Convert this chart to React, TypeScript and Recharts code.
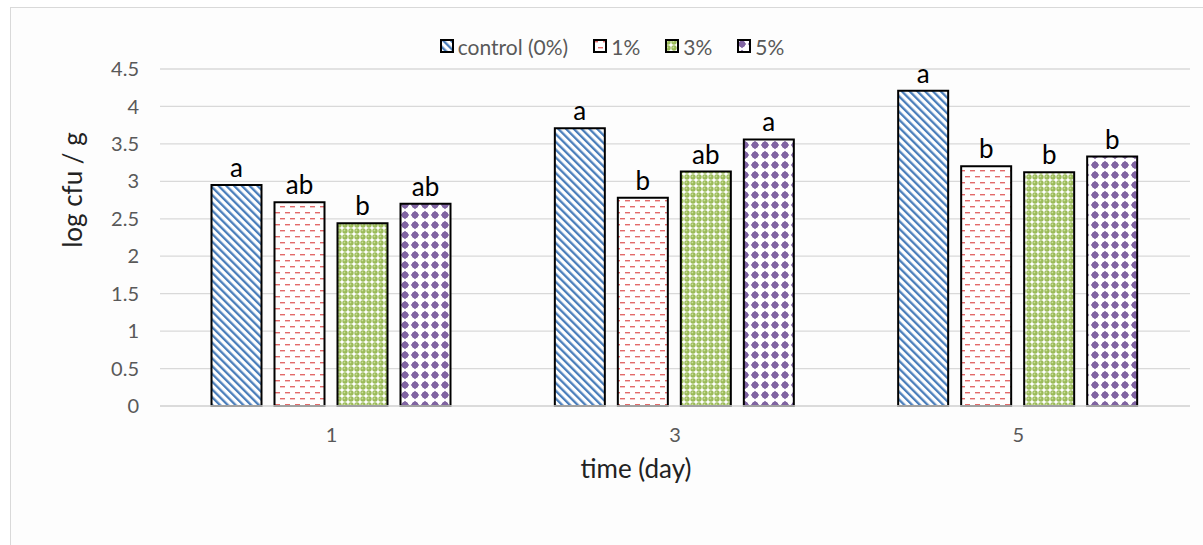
import React from 'react';
import { BarChart, Bar, XAxis, YAxis, CartesianGrid, Legend, LabelList, Label } from 'recharts';

const categories = ['1', '3', '5'];
const controlValues = [2.95, 3.71, 4.21];
const pct1Values = [2.72, 2.78, 3.2];
const pct3Values = [2.44, 3.13, 3.12];
const pct5Values = [2.7, 3.56, 3.33];
const controlLetters = ['a', 'a', 'a'];
const pct1Letters = ['ab', 'b', 'b'];
const pct3Letters = ['b', 'ab', 'b'];
const pct5Letters = ['ab', 'a', 'b'];
const yTicks = [0, 0.5, 1, 1.5, 2, 2.5, 3, 3.5, 4, 4.5];
const seriesNames = ['control (0%)', '1%', '3%', '5%'];
const seriesKeys = ['control', 'pct1', 'pct3', 'pct5'];
const letterKeys = ['controlL', 'pct1L', 'pct3L', 'pct5L'];
const patternIds = ['patControl', 'patPct1', 'patPct3', 'patPct5'];

const data = categories.map((day, i) => ({
  day,
  control: controlValues[i],
  pct1: pct1Values[i],
  pct3: pct3Values[i],
  pct5: pct5Values[i],
  controlL: controlLetters[i],
  pct1L: pct1Letters[i],
  pct3L: pct3Letters[i],
  pct5L: pct5Letters[i],
}));

const FONT = 'Lato, "Open Sans", sans-serif';
const TICK_COLOR = '#595959';

const LegendContent = () => {
  return (
    <div
      style={{
        display: 'flex',
        justifyContent: 'center',
        alignItems: 'center',
        height: 24,
        fontFamily: FONT,
        fontSize: 21,
        color: TICK_COLOR,
        paddingLeft: 21,
      }}
    >
      {seriesKeys.map((k, i) => (
        <span key={k} style={{ display: 'flex', alignItems: 'center', marginRight: i < seriesKeys.length - 1 ? 25 : 0 }}>
          <svg width={14} height={14} style={{ marginRight: 4 }}>
            <rect x={1} y={1} width={12} height={12} fill={`url(#${patternIds[i]})`} stroke="#000" strokeWidth={2} />
          </svg>
          <span>{seriesNames[i]}</span>
        </span>
      ))}
    </div>
  );
};

export default function App() {
  return (
    <div style={{ position: 'absolute', left: 0, top: 0, width: 1203, height: 545, background: '#fff', overflow: 'hidden' }}>
      <div
        style={{
          position: 'absolute',
          left: 10,
          top: 7,
          right: -5,
          bottom: -5,
          borderLeft: '1px solid #d9d9d9',
          borderTop: '1px solid #d9d9d9',
          background: '#fdfdfd',
        }}
      />
      <div style={{ position: 'absolute', left: 0, top: 0 }}>
        <BarChart
          width={1203}
          height={545}
          data={data}
          margin={{ top: 45, right: 13, left: 0, bottom: 59 }}
          barCategoryGap="15%"
          barGap={13}
        >
          <defs>
            <pattern id="patControl" width="5.5" height="5.5" patternUnits="userSpaceOnUse" patternTransform="rotate(-45)">
              <rect width="5.5" height="5.5" fill="#fff" />
              <rect x="0" y="0" width="2.3" height="5.5" fill="#4a7ebb" />
            </pattern>
            <pattern id="patPct1" width="10" height="12" patternUnits="userSpaceOnUse">
              <rect width="10" height="12" fill="#fff" />
              <rect x="0" y="2" width="5" height="1.4" fill="#e36a6a" />
              <rect x="5" y="8" width="5" height="1.4" fill="#e36a6a" />
            </pattern>
            <pattern id="patPct3" width="6" height="6" patternUnits="userSpaceOnUse">
              <rect width="6" height="6" fill="#fff" />
              <circle cx="3" cy="3" r="2.7" fill="#9bbb59" />
              <circle cx="2.4" cy="2.4" r="0.9" fill="#c9de98" />
            </pattern>
            <pattern id="patPct5" width="10" height="10" patternUnits="userSpaceOnUse">
              <rect width="10" height="10" fill="#fff" />
              <polygon points="5,0.8 9.2,5 5,9.2 0.8,5" fill="#8064a2" />
              <circle cx="5" cy="5" r="3.2" fill="#8064a2" />
            </pattern>
          </defs>
          <CartesianGrid horizontal vertical={false} stroke="#d9d9d9" strokeWidth={1.3} />
          <Legend
            verticalAlign="top"
            align="center"
            content={<LegendContent />}
            wrapperStyle={{ top: 34, left: 0, width: 1203, height: 24 }}
          />
          <XAxis
            dataKey="day"
            height={80}
            tickLine={false}
            axisLine={{ stroke: '#d9d9d9', strokeWidth: 1.3 }}
            tickMargin={16}
            tick={{ fill: TICK_COLOR, fontSize: 20, fontFamily: FONT }}
          >
            <Label
              content={(p: any) => {
                const vb = p.viewBox || {};
                return (
                  <text
                    x={vb.x + 476}
                    y={vb.y + 72}
                    textAnchor="middle"
                    fontFamily={FONT}
                    fontSize={26}
                    fill="#222"
                  >
                    time (day)
                  </text>
                );
              }}
            />
          </XAxis>
          <YAxis
            width={160}
            domain={[0, 4.5]}
            ticks={yTicks}
            interval={0}
            tickLine={false}
            axisLine={false}
            tickMargin={15}
            tick={{ fill: TICK_COLOR, fontSize: 20, fontFamily: FONT }}
          >
            <Label
              content={(p: any) => {
                const vb = p.viewBox || {};
                const x = vb.x + 72;
                const y = vb.y + 121;
                return (
                  <text
                    x={x}
                    y={y}
                    transform={`rotate(-90, ${x}, ${y})`}
                    textAnchor="middle"
                    dominantBaseline="central"
                    fontFamily={FONT}
                    fontSize={26}
                    fill="#222"
                  >
                    log cfu / g
                  </text>
                );
              }}
            />
          </YAxis>
          {seriesKeys.map((k, i) => (
            <Bar
              key={k}
              dataKey={k}
              name={seriesNames[i]}
              fill={`url(#${patternIds[i]})`}
              stroke="#000"
              strokeWidth={2}
              isAnimationActive={false}
            >
              <LabelList dataKey={letterKeys[i]} position="top" offset={8} fill="#000" fontSize={26} fontFamily={FONT} />
            </Bar>
          ))}
        </BarChart>
      </div>
    </div>
  );
}
